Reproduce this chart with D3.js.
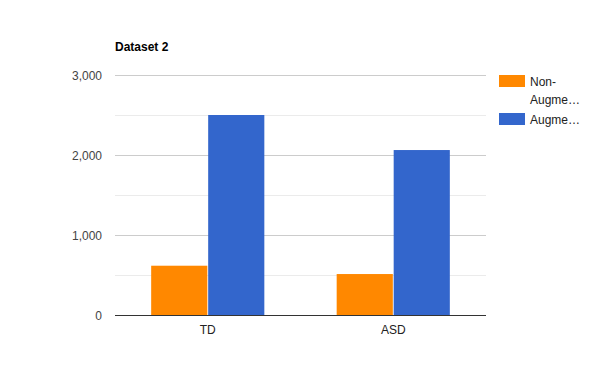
<!DOCTYPE html>
<html>
<head>
<meta charset="utf-8">
<script src="https://cdn.jsdelivr.net/npm/d3@7"></script>
<style>
  body { margin: 0; background: #fff; }
  text { font-family: Arial, "Liberation Sans", sans-serif; }
</style>
</head>
<body>
<div id="chart"></div>
<script>
// data
var categories = ["TD", "ASD"];
var seriesNames = ["Non-Augmented", "Augmented"];
var legendLines = [["Non-", "Augme\u2026"], ["Augme\u2026"]];
var nonAugmented = [616, 512];
var augmented = [2500, 2062];
var yTicks = [0, 1000, 2000, 3000];
var colors = ["#ff8800", "#3366cc"];

var width = 600, height = 390;
var plotLeft = 115, plotRight = 486, plotTop = 75, plotBottom = 315;

var svg = d3.select("#chart").append("svg")
  .attr("width", width)
  .attr("height", height);

var y = d3.scaleLinear().domain([0, 3000]).range([plotBottom, plotTop]);
var x = d3.scaleBand().domain(categories).range([plotLeft, plotRight]).paddingInner(0.39).paddingOuter(0.195);
var xs = d3.scaleBand().domain(seriesNames).range([0, x.bandwidth()]).paddingInner(0.015);

// minor gridlines
svg.append("g").selectAll("line")
  .data(d3.range(500, 3000, 1000))
  .enter().append("line")
  .attr("x1", plotLeft).attr("x2", plotRight)
  .attr("y1", d => Math.round(y(d)) + 0.5).attr("y2", d => Math.round(y(d)) + 0.5)
  .style("stroke", "#ebebeb");

// major gridlines
svg.append("g").selectAll("line")
  .data(yTicks.slice(1))
  .enter().append("line")
  .attr("x1", plotLeft).attr("x2", plotRight)
  .attr("y1", d => Math.round(y(d)) + 0.5).attr("y2", d => Math.round(y(d)) + 0.5)
  .style("stroke", "#cccccc");

// y tick labels
svg.append("g").selectAll("text")
  .data(yTicks)
  .enter().append("text")
  .attr("x", 102)
  .attr("y", d => y(d) + 4.5)
  .attr("text-anchor", "end")
  .style("font-size", "12px")
  .style("fill", "#444")
  .text(d => d3.format(",")(d));

// bars
var rows = categories.map((c, i) => ({cat: c, vals: [nonAugmented[i], augmented[i]]}));
var groups = svg.append("g").selectAll("g")
  .data(rows)
  .enter().append("g")
  .attr("transform", d => "translate(" + x(d.cat) + ",0)");

groups.selectAll("rect")
  .data(d => d.vals.map((v, j) => ({name: seriesNames[j], v: v, c: colors[j]})))
  .enter().append("rect")
  .attr("x", d => xs(d.name))
  .attr("y", d => y(d.v))
  .attr("width", xs.bandwidth())
  .attr("height", d => plotBottom - y(d.v))
  .style("fill", d => d.c);

// baseline
svg.append("line")
  .attr("x1", plotLeft).attr("x2", plotRight)
  .attr("y1", plotBottom + 0.5).attr("y2", plotBottom + 0.5)
  .style("stroke", "#333");

// category labels
svg.append("g").selectAll("text")
  .data(categories)
  .enter().append("text")
  .attr("x", d => x(d) + x.bandwidth() / 2)
  .attr("y", 334)
  .attr("text-anchor", "middle")
  .style("font-size", "12px")
  .style("fill", "#222")
  .text(d => d);

// title
svg.append("text")
  .attr("x", plotLeft)
  .attr("y", 51)
  .style("font-size", "12px")
  .style("font-weight", "bold")
  .style("fill", "#000")
  .text("Dataset 2");

// legend
var legendY = [75, 113];
var legend = svg.append("g").selectAll("g")
  .data(seriesNames)
  .enter().append("g")
  .attr("transform", (d, i) => "translate(499," + legendY[i] + ")");

legend.append("rect")
  .attr("width", 26).attr("height", 12)
  .style("fill", (d, i) => colors[i]);

legend.append("text")
  .attr("x", 31)
  .style("font-size", "12px")
  .style("fill", "#222")
  .selectAll("tspan")
  .data((d, i) => legendLines[i])
  .enter().append("tspan")
  .attr("x", 31)
  .attr("y", (d, k) => 10.5 + k * 18)
  .text(d => d);
</script>
</body>
</html>
